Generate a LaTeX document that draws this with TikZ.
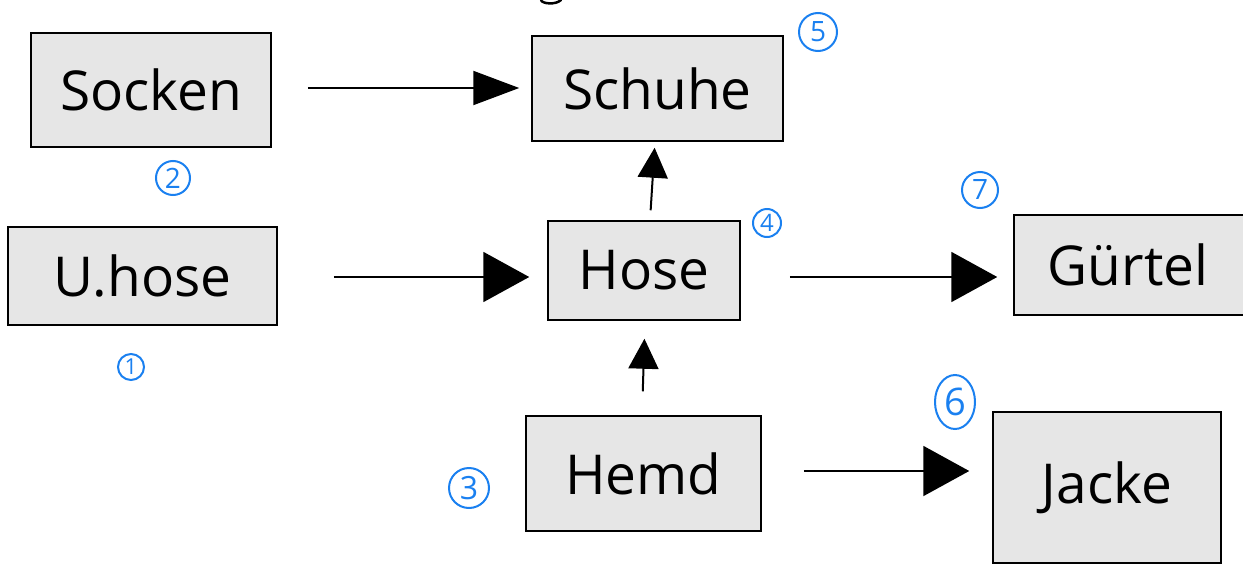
\documentclass[tikz,border=0pt]{standalone}
\usepackage{fontspec}
\setmainfont{Open Sans}
\usetikzlibrary{arrows.meta,shapes.geometric}
\definecolor{boxgray}{HTML}{E6E6E6}
\definecolor{numblue}{HTML}{1A80F0}
\tikzset{
  garment/.style={draw=black, line width=1.5pt, fill=boxgray, inner sep=0pt,
    font=\fontsize{55}{60}\selectfont},
  dep/.style={line width=2pt, -{Triangle[length=46pt,width=50pt]}},
  depsmall/.style={line width=2pt, -{Triangle[length=30pt,width=30pt]}},
  depmid/.style={line width=2pt, -{Triangle[length=46pt,width=34pt]}},
  numcirc/.style={draw=numblue, line width=2pt, circle, inner sep=0pt, text=numblue,
    font=\fontsize{28}{30}\selectfont},
}
\begin{document}
\begin{tikzpicture}[x=1pt,y=-1pt]
\useasboundingbox (0,0) rectangle (1243,565);
\begin{scope}
\clip (0,0) rectangle (1243,565);
% top fragment
\draw[line width=2.5pt, line cap=round] (541,0) .. controls (542,4) and (556,5) .. (561,0);
\node[garment, minimum width=240pt, minimum height=114pt] (socken) at (151,90) {Socken};
\node[garment, minimum width=251pt, minimum height=105pt] (schuhe) at (657.5,88.5) {Schuhe};
\node[garment, minimum width=269pt, minimum height=98pt] (uhose) at (142.5,276) {U.hose};
\node[garment, minimum width=192pt, minimum height=99pt] (hose) at (644,270.5) {Hose};
\node[garment, minimum width=240pt, minimum height=100pt] (guertel) at (1134,265) {\hspace*{-12pt}Gürtel};
\node[garment, minimum width=235pt, minimum height=115pt] (hemd) at (643.5,473.5) {Hemd};
\node[garment, minimum width=228pt, minimum height=151pt] (jacke) at (1107,487.5) {Jacke};
\end{scope}
% dependencies
\draw[depmid, shorten <=36pt, shorten >=12pt] (socken.east |- 0,88) -- (schuhe.west |- 0,88);
\draw[dep, shorten <=56pt, shorten >=18pt] (uhose.east |- 0,277) -- (hose.west |- 0,277);
\draw[depsmall, shorten <=10pt, shorten >=6pt] (hose.north -| 650,0) -- (schuhe.south -| 655,0);
\draw[depsmall, shorten <=24pt, shorten >=18pt] (hemd.north -| 642,0) -- (hose.south -| 645,0);
\draw[dep, shorten <=49pt, shorten >=16pt] (hose.east |- 0,277) -- (guertel.west |- 0,277);
\draw[dep, shorten <=42pt, shorten >=23pt] (hemd.east |- 0,471) -- (jacke.west |- 0,471);
% order numbers
\node[numcirc, minimum size=38pt] (n5) at (818,32) {5};
\node[numcirc, minimum size=34pt] (n2) at (173,178) {2};
\node[numcirc, minimum size=26pt, font=\fontsize{22}{24}\selectfont] (n1) at (131,367) {1};
\node[numcirc, minimum size=28pt, font=\fontsize{24}{26}\selectfont] (n4) at (767,223) {4};
\node[numcirc, minimum size=36pt] (n7) at (980,190) {7};
\node[numcirc, ellipse, minimum width=40pt, minimum height=54pt, font=\fontsize{38}{40}\selectfont] (n6) at (955,402) {6};
\node[numcirc, minimum size=40pt, font=\fontsize{32}{34}\selectfont] (n3) at (469,488) {3};
\end{tikzpicture}
\end{document}
